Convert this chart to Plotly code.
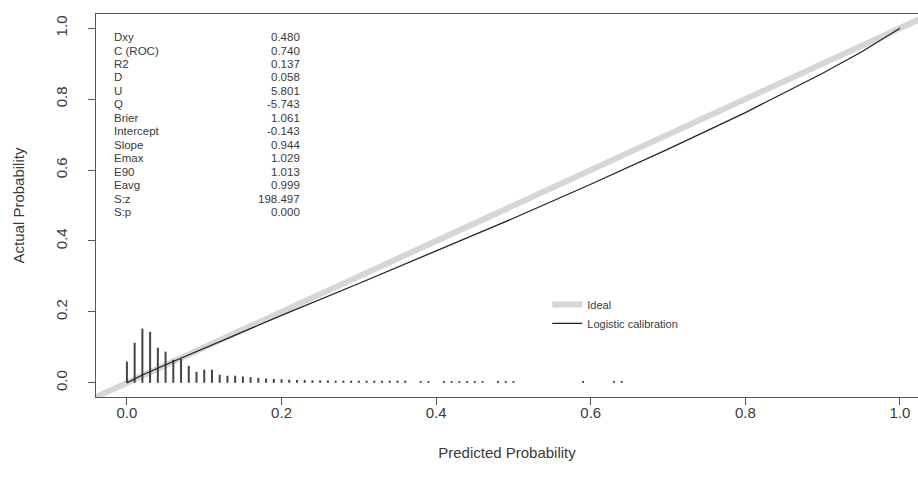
import plotly.graph_objects as go

# ---- data ----
stat_names = ["Dxy", "C (ROC)", "R2", "D", "U", "Q", "Brier", "Intercept",
              "Slope", "Emax", "E90", "Eavg", "S:z", "S:p"]
stat_values = ["0.480", "0.740", "0.137", "0.058", "5.801", "-5.743", "1.061",
               "-0.143", "0.944", "1.029", "1.013", "0.999", "198.497", "0.000"]

ideal_x = [-0.04, 1.04]
ideal_y = [-0.04, 1.04]

cal_x = [0.0, 0.01, 0.02, 0.05, 0.10, 0.15, 0.20, 0.30, 0.40, 0.50,
         0.60, 0.70, 0.80, 0.90, 0.95, 0.99, 1.0]
cal_y = [0.0, 0.011, 0.022, 0.051, 0.098, 0.144, 0.190, 0.280, 0.372, 0.464,
         0.560, 0.659, 0.762, 0.873, 0.933, 0.985, 1.0]

spike_x = [0.00, 0.01, 0.02, 0.03, 0.04, 0.05, 0.06, 0.07, 0.08, 0.09,
           0.10, 0.11, 0.12, 0.13, 0.14, 0.15, 0.16, 0.17, 0.18, 0.19,
           0.20, 0.21, 0.22, 0.23, 0.24, 0.25, 0.26, 0.27, 0.28, 0.29,
           0.30, 0.31, 0.32, 0.33, 0.34, 0.35, 0.36, 0.38, 0.39, 0.41,
           0.42, 0.43, 0.44, 0.45, 0.46, 0.48, 0.49, 0.50, 0.59, 0.63, 0.64]
spike_h = [0.060, 0.113, 0.153, 0.144, 0.099, 0.088, 0.065, 0.068, 0.048, 0.031,
           0.037, 0.037, 0.023, 0.020, 0.020, 0.018, 0.016, 0.014, 0.012, 0.011,
           0.010, 0.009, 0.008, 0.008, 0.007, 0.007, 0.007, 0.006, 0.006, 0.006,
           0.006, 0.006, 0.006, 0.006, 0.006, 0.006, 0.006, 0.005, 0.005, 0.005,
           0.005, 0.005, 0.005, 0.005, 0.005, 0.005, 0.005, 0.005, 0.005, 0.005, 0.005]

tick_vals = [0.0, 0.2, 0.4, 0.6, 0.8, 1.0]
tick_text = ["0.0", "0.2", "0.4", "0.6", "0.8", "1.0"]

FONT = "Liberation Sans, Arial, sans-serif"
TXT = "#3a3a3a"

# spike segments
sx, sy = [], []
for x, h in zip(spike_x, spike_h):
    sx += [x, x, None]
    sy += [0, h, None]

fig = go.Figure()
fig.add_trace(go.Scatter(x=ideal_x, y=ideal_y, mode="lines", name="Ideal",
                         line=dict(color="#d6d6d6", width=6)))
fig.add_trace(go.Scatter(x=sx, y=sy, mode="lines", showlegend=False,
                         line=dict(color="#444444", width=2)))
fig.add_trace(go.Scatter(x=cal_x, y=cal_y, mode="lines", name="Logistic calibration",
                         line=dict(color="#222222", width=1.3)))

# statistics block
y0, step = 0.975, 0.038
for i, (n, v) in enumerate(zip(stat_names, stat_values)):
    yy = y0 - i * step
    fig.add_annotation(x=-0.019, y=yy, text=n, showarrow=False, xanchor="left",
                       yanchor="middle", font=dict(family=FONT, size=11.5, color=TXT))
    fig.add_annotation(x=0.226, y=yy, text=v, showarrow=False, xanchor="right",
                       yanchor="middle", font=dict(family=FONT, size=11.5, color=TXT))

fig.update_layout(
    width=918, height=489,
    margin=dict(l=96, r=0, t=14, b=92),
    paper_bgcolor="white", plot_bgcolor="white",
    font=dict(family=FONT, color=TXT),
    showlegend=True,
    legend=dict(x=0.549, y=0.217, xanchor="left", yanchor="middle",
                bgcolor="rgba(0,0,0,0)", font=dict(size=11, color=TXT),
                tracegroupgap=0, itemwidth=30),
)
fig.update_xaxes(range=[-0.04, 1.0233], tickvals=tick_vals, ticktext=tick_text,
                 ticks="outside", ticklen=7, tickcolor="#555", tickwidth=1,
                 showline=True, linecolor="#555", linewidth=1, mirror=True,
                 showgrid=False, zeroline=False,
                 ticklabelstandoff=-5,
                 tickfont=dict(size=15, color=TXT),
                 title=dict(text="Predicted Probability", font=dict(size=15, color=TXT), standoff=27))
fig.update_yaxes(range=[-0.04, 1.04], tickvals=tick_vals, ticktext=tick_text,
                 ticks="outside", ticklen=7, tickcolor="#555", tickwidth=1,
                 showline=True, linecolor="#555", linewidth=1, mirror=True,
                 showgrid=False, zeroline=False, tickangle=-90,
                 ticklabelstandoff=15,
                 tickfont=dict(size=15, color=TXT),
                 title=dict(text="Actual Probability", font=dict(size=15, color=TXT), standoff=24))

fig.write_html("out.html")
